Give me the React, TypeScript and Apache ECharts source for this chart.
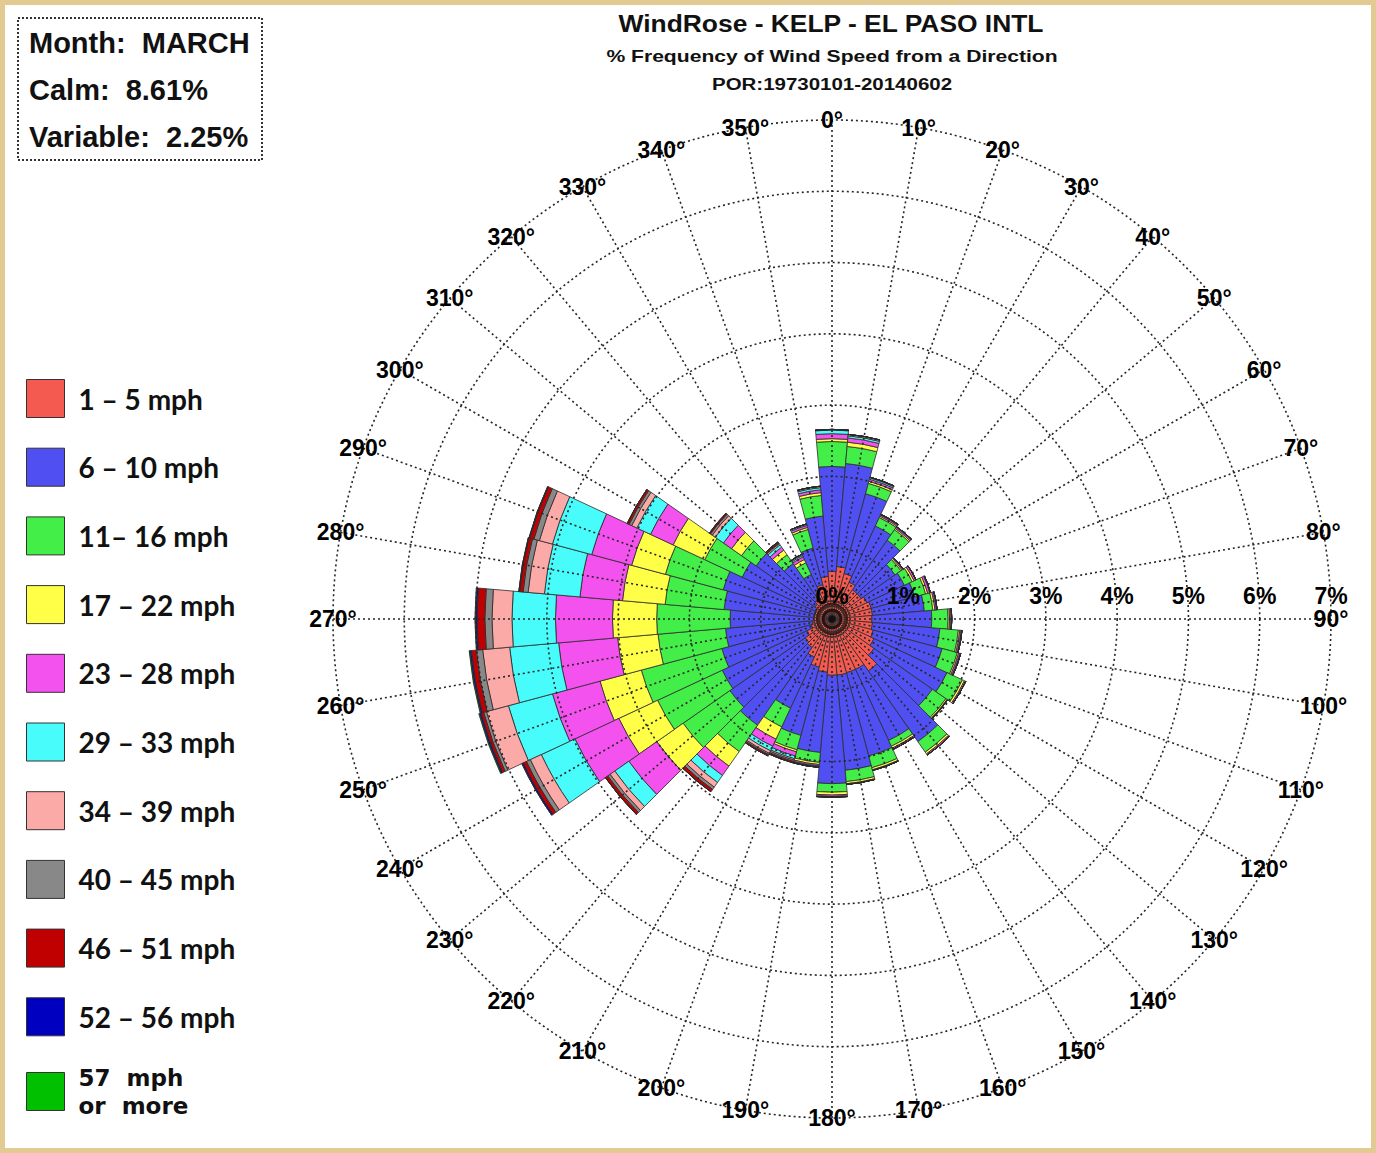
import React, { useEffect, useRef } from 'react';
import * as echarts from 'echarts';

// Wind directions (degrees, wind blowing FROM)
const directions = ['0', '10', '20', '30', '40', '50', '60', '70', '80', '90', '100', '110', '120', '130', '140', '150', '160', '170', '180', '190', '200', '210', '220', '230', '240', '250', '260', '270', '280', '290', '300', '310', '320', '330', '340', '350'];
const angleTicks = [0, 10, 20, 30, 40, 50, 60, 70, 80, 90, 100, 110, 120, 130, 140, 150, 160, 170, 180, 190, 200, 210, 220, 230, 240, 250, 260, 270, 280, 290, 300, 310, 320, 330, 340, 350];

const speedBins = ['1 – 5 mph', '6 – 10 mph', '11– 16 mph', '17 – 22 mph', '23 – 28 mph', '29 – 33 mph', '34 – 39 mph', '40 – 45 mph', '46 – 51 mph', '52 – 56 mph', '57 mph or more'];
const binColors = ['#f45a50', '#5050f2', '#44ee48', '#ffff48', '#f452ee', '#48fcfc', '#fcaaa8', '#888888', '#c00000', '#0000c0', '#00c000'];

// % frequency per direction for each speed bin
const s1to5 = [0.67, 0.74, 0.66, 0.57, 0.50, 0.50, 0.54, 0.57, 0.57, 0.56, 0.57, 0.60, 0.65, 0.72, 0.89, 0.78, 0.78, 0.79, 0.79, 0.75, 0.70, 0.59, 0.49, 0.46, 0.39, 0.30, 0.28, 0.26, 0.25, 0.25, 0.26, 0.29, 0.34, 0.40, 0.50, 0.60];
const s6to10 = [1.47, 1.45, 1.16, 0.87, 0.85, 0.58, 0.58, 0.63, 0.73, 0.84, 0.95, 1.00, 1.13, 1.00, 1.21, 1.10, 1.21, 1.34, 1.52, 1.13, 0.99, 0.79, 1.33, 1.29, 1.31, 1.30, 1.22, 1.17, 1.27, 1.33, 1.13, 1.01, 0.61, 0.29, 0.53, 0.85];
const s11to16 = [0.35, 0.24, 0.15, 0.13, 0.18, 0.10, 0.12, 0.16, 0.12, 0.23, 0.26, 0.22, 0.24, 0.23, 0.18, 0.09, 0.17, 0.16, 0.12, 0.14, 0.21, 0.29, 0.45, 0.80, 1.00, 1.17, 0.95, 1.03, 0.83, 0.84, 0.58, 0.25, 0.15, 0.18, 0.27, 0.29];
const s17to22 = [0.04, 0.06, 0.03, 0.02, 0.02, 0.02, 0.03, 0.03, 0.03, 0.02, 0.02, 0.02, 0.03, 0.02, 0.03, 0.03, 0.03, 0.03, 0.04, 0.03, 0.03, 0.19, 0.25, 0.45, 0.60, 0.60, 0.57, 0.62, 0.60, 0.49, 0.49, 0.17, 0.08, 0.05, 0.03, 0.04];
const s23to28 = [0.07, 0.06, 0.03, 0.02, 0.02, 0.02, 0.03, 0.03, 0.02, 0.02, 0.02, 0.02, 0.02, 0.01, 0.02, 0.02, 0.01, 0.01, 0.02, 0.02, 0.06, 0.11, 0.16, 0.48, 0.68, 0.69, 0.83, 0.80, 0.60, 0.58, 0.35, 0.14, 0.05, 0.04, 0.03, 0.04];
const s29to33 = [0.05, 0.03, 0.02, 0.01, 0.01, 0, 0, 0.01, 0.01, 0.01, 0.01, 0.01, 0, 0, 0, 0, 0, 0, 0.01, 0.01, 0.04, 0.07, 0.12, 0.24, 0.52, 0.64, 0.69, 0.61, 0.50, 0.57, 0.21, 0.14, 0.04, 0.02, 0.02, 0.03];
const s34to39 = [0.01, 0.02, 0.01, 0, 0, 0, 0, 0, 0, 0, 0, 0, 0, 0, 0, 0, 0, 0, 0, 0.01, 0.02, 0.04, 0.08, 0.08, 0.17, 0.32, 0.38, 0.28, 0.23, 0.19, 0.08, 0.05, 0.02, 0.02, 0, 0.02];
const s40to45 = [0, 0, 0, 0, 0, 0, 0, 0, 0, 0, 0, 0, 0, 0, 0, 0, 0, 0, 0, 0, 0.02, 0.02, 0.04, 0.04, 0.06, 0.04, 0.09, 0.10, 0.07, 0.08, 0.04, 0.03, 0.01, 0, 0, 0];
const s46to51 = [0, 0, 0, 0, 0, 0, 0, 0, 0, 0, 0, 0, 0, 0, 0, 0, 0, 0, 0, 0, 0.02, 0.02, 0.04, 0.04, 0.05, 0.04, 0.07, 0.11, 0.05, 0.06, 0.03, 0.02, 0.02, 0, 0, 0];
const s52to56 = [0, 0, 0, 0, 0, 0, 0, 0, 0, 0, 0, 0, 0, 0, 0, 0, 0, 0, 0, 0, 0, 0, 0, 0, 0.02, 0.02, 0.02, 0.02, 0.01, 0.01, 0, 0, 0, 0, 0, 0];
const s57plus = [0, 0, 0, 0, 0, 0, 0, 0, 0, 0, 0, 0, 0, 0, 0, 0, 0, 0, 0, 0, 0, 0, 0, 0, 0, 0.01, 0.01, 0.01, 0, 0, 0, 0, 0, 0, 0, 0];

const binValues = [s1to5, s6to10, s11to16, s17to22, s23to28, s29to33, s34to39, s40to45, s46to51, s52to56, s57plus];

const titleText = 'WindRose - KELP - EL PASO INTL';
const subtitleText = '% Frequency of Wind Speed from a Direction';
const porText = 'POR:19730101-20140602';
const infoLines = ['Month:  MARCH', 'Calm:  8.61%', 'Variable:  2.25%'];

const dotted = { type: [2, 3] as any, color: '#262626', width: 1.6 };
const arial = '"Liberation Sans", Arial, sans-serif';

export default function App() {
  const ref = useRef<HTMLDivElement>(null);
  useEffect(() => {
    if (!ref.current) return;
    const chart = echarts.init(ref.current, undefined, { renderer: 'svg' });
    const barSeries = speedBins.map((name, i) => ({
      type: 'bar',
      name,
      coordinateSystem: 'polar',
      polarIndex: 0,
      stack: 'wind',
      data: binValues[i],
      barCategoryGap: '0%',
      barGap: '0%',
      silent: true,
      z: 2,
      itemStyle: { color: binColors[i], borderColor: '#2b2b2b', borderWidth: 0.8 },
    }));
    const angleLabelSeries = {
      type: 'scatter',
      coordinateSystem: 'polar',
      polarIndex: 1,
      silent: true,
      symbol: 'circle',
      symbolSize: 0,
      itemStyle: { color: '#000', opacity: 1 },
      z: 12,
      data: angleTicks.map((a) => [7, a]),
      label: {
        show: true,
        position: 'inside',
        formatter: (p: any) => p.value[1] + '°',
        fontSize: 23,
        fontWeight: 'bold',
        color: '#000',
        opacity: 1,
        textBorderWidth: 0,
        textBorderColor: 'transparent',
        fontFamily: arial,
      },
    };
    const option: any = {
      animation: false,
      backgroundColor: '#e3c992',
      textStyle: { fontFamily: arial },
      polar: [
        { center: [832, 619], radius: [0, 499] },
        { center: [832, 619], radius: [0, 499] },
        { center: [832, 619], radius: [0, 499] },
      ],
      angleAxis: [
        {
          polarIndex: 0, type: 'category', data: directions, startAngle: 95, clockwise: true, boundaryGap: true,
          axisLine: { show: false }, axisTick: { show: false }, axisLabel: { show: false }, splitLine: { show: false },
        },
        {
          polarIndex: 1, type: 'value', min: 0, max: 360, interval: 10, startAngle: 90, clockwise: true, z: 10,
          axisLine: { show: false }, axisTick: { show: false }, axisLabel: { show: false },
          splitLine: { show: true, lineStyle: dotted },
        },
        {
          polarIndex: 2, type: 'value', min: 0, max: 360, startAngle: 0, clockwise: true,
          axisLine: { show: false }, axisTick: { show: false }, axisLabel: { show: false }, splitLine: { show: false },
        },
      ],
      radiusAxis: [
        { polarIndex: 0, min: 0, max: 7, show: false, splitLine: { show: false } },
        {
          polarIndex: 1, min: 0, max: 7, interval: 1, z: 10,
          axisLine: { show: false }, axisTick: { show: false }, axisLabel: { show: false },
          splitLine: { show: true, lineStyle: dotted },
        },
        {
          polarIndex: 2, min: 0, max: 7, interval: 1, z: 11,
          axisLine: { show: false }, axisTick: { show: false }, splitLine: { show: false },
          axisLabel: {
            formatter: '{value}%', fontSize: 23, fontWeight: 'bold', color: '#000', margin: 12,
            fontFamily: arial,
          },
        },
      ],
      legend: {
        orient: 'vertical', left: 26, top: 379, padding: 0, itemWidth: 38, itemHeight: 38, itemGap: 29.7,
        icon: 'rect', selectedMode: false,
        itemStyle: { borderColor: '#333', borderWidth: 1 },
        textStyle: {
          fontFamily: 'Lato, "Open Sans", sans-serif', fontWeight: 'bold', fontSize: 28, color: '#111', padding: [0, 0, 0, 9],
          rich: {
            w: { fontFamily: '"DejaVu Sans", sans-serif', fontWeight: 'bold', fontSize: 23, lineHeight: 28, color: '#111' },
          },
        },
        formatter: (name: string) => (name === speedBins[10] ? '{w|57  mph}\n{w|or  more}' : name),
        data: speedBins,
      },
      graphic: [
        { type: 'rect', z: 0, silent: true, shape: { x: 5, y: 5, width: 1366, height: 1143 }, style: { fill: '#ffffff' } },
        { type: 'rect', z: 5, silent: true, shape: { x: 18, y: 18, width: 244, height: 142 }, style: { fill: '#ffffff', stroke: '#333', lineWidth: 2, lineDash: [2, 2] } },
        ...infoLines.map((t, i) => ({
          type: 'text', z: 6, silent: true, x: 29, y: 43 + i * 47,
          style: { text: t, font: 'bold 29px "Liberation Sans", Arial, sans-serif', fill: '#111', textVerticalAlign: 'middle', verticalAlign: 'middle' },
        })),
        {
          type: 'text', z: 6, silent: true, x: 831, y: 23, scaleX: 1.1,
          style: { text: titleText, font: 'bold 24px "Liberation Sans", Arial, sans-serif', fill: '#111', textAlign: 'center', align: 'center', textVerticalAlign: 'middle', verticalAlign: 'middle' },
        },
        {
          type: 'text', z: 6, silent: true, x: 832, y: 56, scaleX: 1.32,
          style: { text: subtitleText, font: 'bold 16px "Liberation Sans", Arial, sans-serif', fill: '#111', textAlign: 'center', align: 'center', textVerticalAlign: 'middle', verticalAlign: 'middle' },
        },
        {
          type: 'text', z: 6, silent: true, x: 832, y: 84, scaleX: 1.28,
          style: { text: porText, font: 'bold 16px "Liberation Sans", Arial, sans-serif', fill: '#111', textAlign: 'center', align: 'center', textVerticalAlign: 'middle', verticalAlign: 'middle' },
        },
        { type: 'circle', z: 12, silent: true, shape: { cx: 832, cy: 619, r: 15 }, style: { fill: 'none', stroke: '#3a1a12', lineWidth: 2 } },
        { type: 'circle', z: 12, silent: true, shape: { cx: 832, cy: 619, r: 9 }, style: { fill: 'none', stroke: '#2a1210', lineWidth: 2.5 } },
        { type: 'circle', z: 12, silent: true, shape: { cx: 832, cy: 619, r: 3.5 }, style: { fill: '#111' } },
      ],
      series: [...barSeries, angleLabelSeries],
    };
    chart.setOption(option);
    return () => chart.dispose();
  }, []);
  return <div ref={ref} style={{ position: 'absolute', left: 0, top: 0, width: 1376, height: 1153 }} />;
}
